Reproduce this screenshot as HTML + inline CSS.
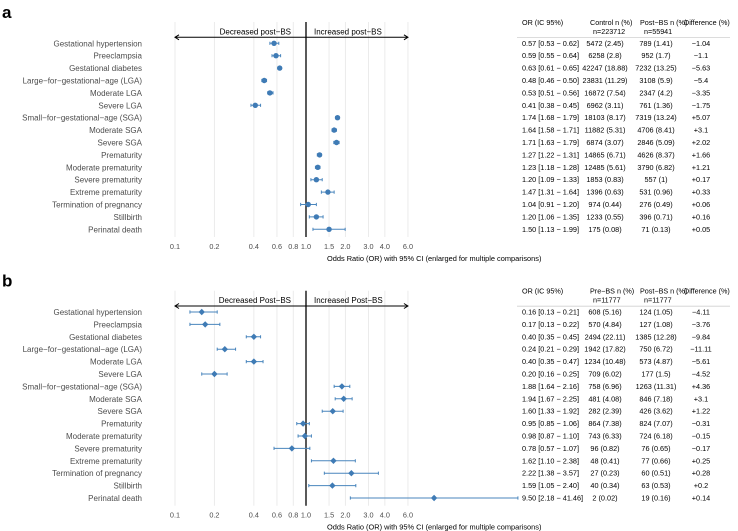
<!DOCTYPE html>
<html><head><meta charset="utf-8"><style>
html,body{margin:0;padding:0;background:#fff;}
svg{display:block;font-family:"Liberation Sans",sans-serif;}
</style></head><body>
<svg id="fig" width="738" height="531" viewBox="0 0 738 531" xmlns="http://www.w3.org/2000/svg"></svg>
<script>
const outcomes = ["Gestational hypertension","Preeclampsia","Gestational diabetes","Large\u2212for\u2212gestational\u2212age (LGA)","Moderate LGA ","Severe LGA ","Small\u2212for\u2212gestational\u2212age (SGA)","Moderate SGA","Severe SGA","Prematurity","Moderate prematurity","Severe prematurity","Extreme prematurity","Termination of pregnancy","Stillbirth","Perinatal death"];
const tickValues = [0.1,0.2,0.4,0.6,0.8,1.0,1.5,2.0,3.0,4.0,6.0];
const tickLabels = ["0.1","0.2","0.4","0.6","0.8","1.0","1.5","2.0","3.0","4.0","6.0"];

const orA = [0.57,0.59,0.63,0.48,0.53,0.41,1.74,1.64,1.71,1.27,1.23,1.20,1.47,1.04,1.20,1.50];
const loA = [0.53,0.55,0.61,0.46,0.51,0.38,1.68,1.58,1.63,1.22,1.18,1.09,1.31,0.91,1.06,1.13];
const hiA = [0.62,0.64,0.65,0.50,0.56,0.45,1.79,1.71,1.79,1.31,1.28,1.33,1.64,1.20,1.35,1.99];
const ctrlA = ["5472 (2.45)","6258 (2.8)","42247 (18.88)","23831 (11.29)","16872 (7.54)","6962 (3.11)","18103 (8.17)","11882 (5.31)","6874 (3.07)","14865 (6.71)","12485 (5.61)","1853 (0.83)","1396 (0.63)","974 (0.44)","1233 (0.55)","175 (0.08)"];
const postA = ["789 (1.41)","952 (1.7)","7232 (13.25)","3108 (5.9)","2347 (4.2)","761 (1.36)","7319 (13.24)","4706 (8.41)","2846 (5.09)","4626 (8.37)","3790 (6.82)","557 (1)","531 (0.96)","276 (0.49)","396 (0.71)","71 (0.13)"];
const diffA = ["\u22121.04","\u22121.1","\u22125.63","\u22125.4","\u22123.35","\u22121.75","+5.07","+3.1","+2.02","+1.66","+1.21","+0.17","+0.33","+0.06","+0.16","+0.05"];

const orB = [0.16,0.17,0.40,0.24,0.40,0.20,1.88,1.94,1.60,0.95,0.98,0.78,1.62,2.22,1.59,9.50];
const loB = [0.13,0.13,0.35,0.21,0.35,0.16,1.64,1.67,1.33,0.85,0.87,0.57,1.10,1.38,1.05,2.18];
const hiB = [0.21,0.22,0.45,0.29,0.47,0.25,2.16,2.25,1.92,1.06,1.10,1.07,2.38,3.57,2.40,41.46];
const ctrlB = ["608 (5.16)","570 (4.84)","2494 (22.11)","1942 (17.82)","1234 (10.48)","709 (6.02)","758 (6.96)","481 (4.08)","282 (2.39)","864 (7.38)","743 (6.33)","96 (0.82)","48 (0.41)","27 (0.23)","40 (0.34)","2 (0.02)"];
const postB = ["124 (1.05)","127 (1.08)","1385 (12.28)","750 (6.72)","573 (4.87)","177 (1.5)","1263 (11.31)","846 (7.18)","426 (3.62)","824 (7.07)","724 (6.18)","76 (0.65)","77 (0.66)","60 (0.51)","63 (0.53)","19 (0.16)"];
const diffB = ["\u22124.11","\u22123.76","\u22129.84","\u221211.11","\u22125.61","\u22124.52","+4.36","+3.1","+1.22","\u22120.31","\u22120.15","\u22120.17","+0.25","+0.28","+0.2","+0.14"];

const NS="http://www.w3.org/2000/svg";
const svg=document.getElementById('fig');
const x0=306, pxDec=131;
function xs(v){return x0+Math.log10(v)*pxDec;}
const rowStep=12.4;
function mk(tag,attrs,parent,text){const e=document.createElementNS(NS,tag);for(const k in attrs)e.setAttribute(k,attrs[k]);if(text!==undefined)e.textContent=text;(parent||svg).appendChild(e);return e;}
function fmt(v){return v.toFixed(2);}

function panel(off,letter,or,lo,hi,ctrl,post,diff,ctrlHead,ctrlN,postN,decTxt,incTxt,diamond){
  const g=mk('g',{});
  
  
  const yr=i=>off+43.3+i*rowStep;
  const pl=mk('text',{x:2,y:off+18,'font-size':17,'font-weight':'bold',fill:'#000'},g,letter);
  
  
  tickValues.forEach((t,i)=>{
    const l=mk('line',{x1:xs(t),x2:xs(t),y1:off+22,y2:off+237,stroke:'#ebebeb','stroke-width':1},g);
    
    
    const tl=mk('text',{x:xs(t),y:off+249,'font-size':7.3,fill:'#4d4d4d','text-anchor':'middle'},g,tickLabels[i]);
    
    
  });
  const ref=mk('line',{x1:xs(1),x2:xs(1),y1:off+22,y2:off+237,stroke:'#000','stroke-width':1.3},g);
  
  
  const ay=off+37.3, ax1=xs(0.1), ax2=xs(6);
  const ar=mk('path',{d:`M${ax1} ${ay}H${ax2}M${ax1+4} ${ay-2.5}L${ax1} ${ay}L${ax1+4} ${ay+2.5}M${ax2-4} ${ay-2.5}L${ax2} ${ay}L${ax2-4} ${ay+2.5}`,stroke:'#000','stroke-width':1,fill:'none'},g);
  
  
  const dt=mk('text',{x:xs(1)-15,y:off+34.5,'font-size':8,fill:'#000','text-anchor':'end'},g,decTxt);
  
  
  const it=mk('text',{x:xs(1)+8,y:off+34.5,'font-size':8,fill:'#000'},g,incTxt);
  
  
  outcomes.forEach((o,i)=>{
    const y=yr(i);
    const lb=mk('text',{x:142,y:y+3,'font-size':8,fill:'#4d4d4d','text-anchor':'end'},g,o);
    
    
    const a=xs(lo[i]),b=xs(hi[i]);
    const ci=mk('path',{d:`M${a} ${y}H${b}M${a} ${y-1.6}V${y+1.6}M${b} ${y-1.6}V${y+1.6}`,stroke:'#4a86bd','stroke-width':1,fill:'none'},g);
    
    
    const cx=xs(or[i]);
    let pt;
    if(diamond){pt=mk('path',{d:`M${cx} ${y-3.2}L${cx+3.2} ${y}L${cx} ${y+3.2}L${cx-3.2} ${y}Z`,fill:'#3f7bb5'},g);}
    else{pt=mk('circle',{cx:cx,cy:y,r:2.7,fill:'#3f7bb5'},g);}
    
    
    const t1=mk('text',{x:522,y:y+2.5,'font-size':7.3,fill:'#000'},g,`${fmt(or[i])} [${fmt(lo[i])} \u2212 ${fmt(hi[i])}]`);
    
    
    const t2=mk('text',{x:605,y:y+2.5,'font-size':7.3,fill:'#000','text-anchor':'middle'},g,ctrl[i]);
    
    
    const t3=mk('text',{x:656,y:y+2.5,'font-size':7.3,fill:'#000','text-anchor':'middle'},g,post[i]);
    
    
    const t4=mk('text',{x:701,y:y+2.5,'font-size':7.3,fill:'#000','text-anchor':'middle'},g,diff[i]);
    
    
  });
  const hdr=[[522,'OR (IC 95%)'],[590,ctrlHead],[640,'Post\u2212BS n (%)'],[684,'Difference (%)']];
  hdr.forEach(h=>{
    const t=mk('text',{x:h[0],y:off+25,'font-size':7.2,fill:'#000'},g,h[1]);
    
    
  });
  const n1=mk('text',{x:593,y:off+34,'font-size':7.2,fill:'#000'},g,ctrlN);
  
  
  const n2=mk('text',{x:644,y:off+34,'font-size':7.2,fill:'#000'},g,postN);
  
  
  const ul=mk('line',{x1:517,x2:730,y1:off+37.5,y2:off+37.5,stroke:'#d0d0d0','stroke-width':0.8},g);
  
  
  const xt=mk('text',{x:327,y:off+261,'font-size':7.4,fill:'#000'},g,'Odds Ratio (OR) with 95% CI (enlarged for multiple comparisons)');
  
  
}
panel(0,'a',orA,loA,hiA,ctrlA,postA,diffA,'Control n (%)','n=223712','n=55941','Decreased post\u2212BS','Increased post\u2212BS',false);
panel(268.7,'b',orB,loB,hiB,ctrlB,postB,diffB,'Pre\u2212BS n (%)','n=11777','n=11777','Decreased Post\u2212BS','Increased Post\u2212BS',true);
</script>
</body></html>
